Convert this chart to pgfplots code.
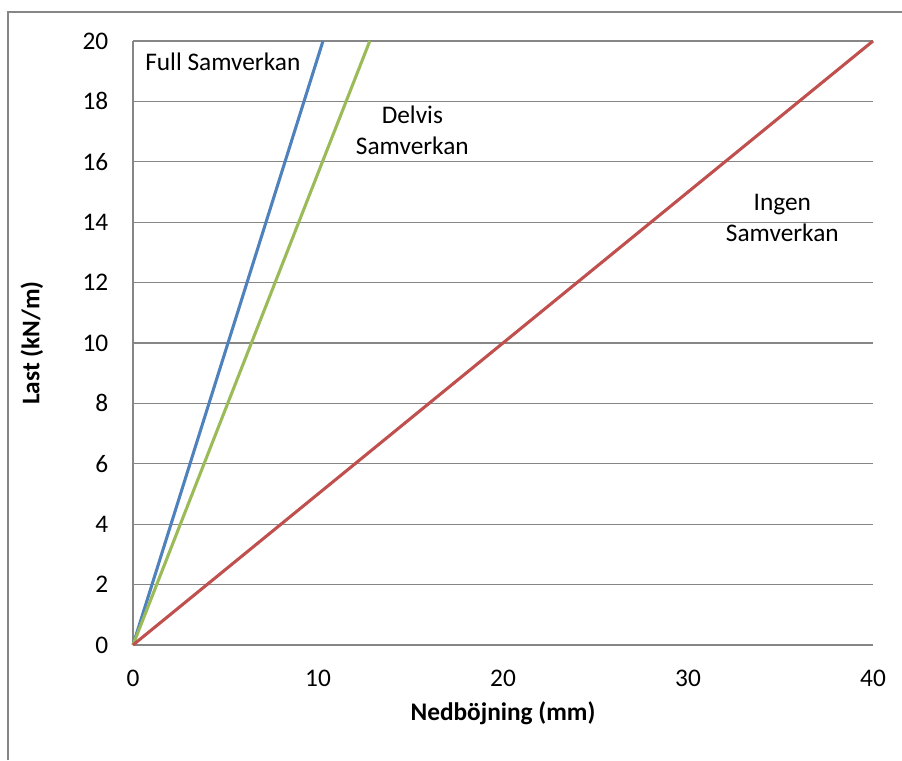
\documentclass[border=0pt]{standalone}
\usepackage{pgfplots}
\pgfplotsset{compat=1.18}
\usepackage{fontspec}
\setmainfont{Carlito}
\definecolor{xblue}{HTML}{4F81BD}
\definecolor{xred}{HTML}{C0504D}
\definecolor{xgreen}{HTML}{9BBB59}
\definecolor{xgrid}{HTML}{868686}
\newcommand{\fs}{\fontsize{19}{23}\selectfont}
\begin{document}
\begin{tikzpicture}
\path[use as bounding box] (0pt,0pt) rectangle (676.5pt,570pt);
\draw[xgrid, line width=0.9pt] (6pt,0pt) -- (6pt,561pt) -- (676.5pt,561pt);
\begin{axis}[
  at={(99.75pt,86.25pt)}, anchor=origin,
  scale only axis, width=555pt, height=453pt,
  xmin=0, xmax=40, ymin=0, ymax=20,
  xtick={0,10,...,40}, ytick={0,2,...,20},
  axis x line*=bottom, axis y line*=left,
  axis line style={xgrid, line width=0.9pt, -},
  ymajorgrids, grid style={xgrid, line width=0.9pt},
  major tick length=0pt,
  /pgf/number format/assume math mode=true,
  tick label style={font=\fs},
  yticklabel style={xshift=-15pt},
  xticklabel style={yshift=-15pt},
  xlabel={\textbf{Nedböjning (mm)}},
  ylabel={\textbf{Last (kN/m)}},
  label style={font=\fs},
  xlabel style={at={(axis description cs:0.5,-0.1126)}, anchor=center},
  ylabel style={at={(axis description cs:-0.1365,0.5)}, anchor=center},
  clip=false,
]
\addplot[xblue, line width=2.3pt] coordinates {(0,0) (10.27,20)};
\addplot[xgreen, line width=2.3pt] coordinates {(0,0) (12.8,20)};
\addplot[xred, line width=2.3pt] coordinates {(0,0) (40,20)};
\node[anchor=west, font=\fs, inner sep=0pt] at (axis cs:0.65,19.3) {Full Samverkan};
\node[align=center, font=\fs, inner sep=0pt] at (axis cs:15.1,17.05) {Delvis\\Samverkan};
\node[align=center, font=\fs, inner sep=0pt] at (axis cs:35.1,14.15) {Ingen\\Samverkan};
\end{axis}
\end{tikzpicture}
\end{document}
